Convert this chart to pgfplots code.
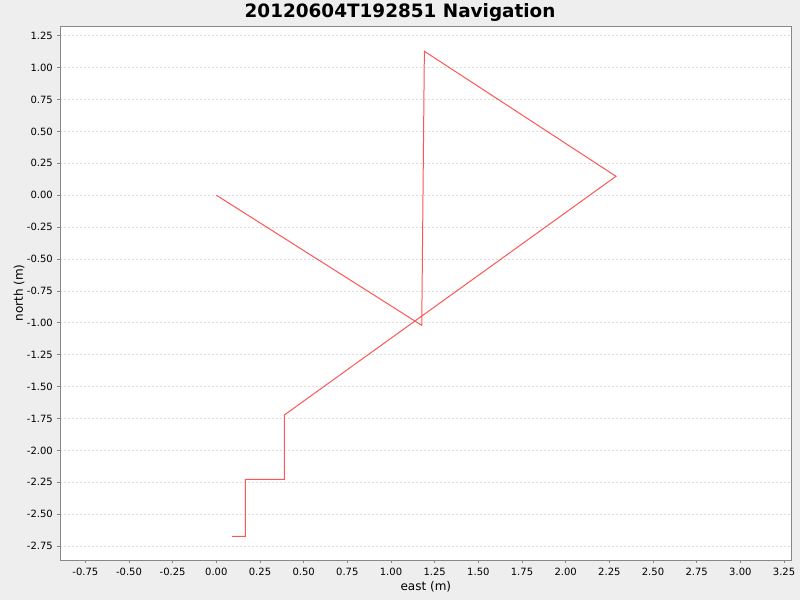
\documentclass[border=0pt]{standalone}
\usepackage{fontspec}
\setmainfont{DejaVu Sans}
\usepackage{pgfplots}
\pgfplotsset{compat=1.18}
\definecolor{bgc}{HTML}{EEEEEE}
\definecolor{linec}{HTML}{FF5555}
\definecolor{gridc}{HTML}{DCDCDC}
\definecolor{axc}{HTML}{888888}
\begin{document}
\begin{tikzpicture}
\fill[bgc] (0pt,0pt) rectangle (800pt,600pt);
\useasboundingbox (0pt,0pt) rectangle (800pt,600pt);
\begin{axis}[
  at={(60pt,40pt)}, anchor=south west,
  scale only axis, width=731.7pt, height=534pt,
  xmin=-0.895, xmax=3.294, ymin=-2.859, ymax=1.326,
  axis background/.style={fill=white},
  axis line style={axc, line width=0.8pt},
  xtick distance=0.25, ytick distance=0.25,
  tick align=outside, major tick length=2.5pt,
  tick style={axc, line width=0.6pt},
  xtick pos=bottom, ytick pos=left,
  ymajorgrids=true,
  grid style={gridc, line width=0.7pt, dash pattern=on 2pt off 2pt},
  /pgf/number format/assume math mode=true,
  /pgf/number format/.cd, fixed, fixed zerofill, precision=2, /pgfplots/.cd,
  ticklabel style={font=\fontsize{10}{12}\selectfont, inner sep=0pt},
  xticklabel style={anchor=north, yshift=-5.5pt},
  yticklabel style={anchor=east, xshift=-4.5pt},
  title={\textbf{20120604T192851 Navigation}},
  title style={at={(axis description cs:0.4647,1)}, anchor=base, yshift=2pt, inner sep=0pt, font=\fontsize{18.4}{20}\selectfont},
  xlabel={east (m)},
  ylabel={north (m)},
  label style={font=\fontsize{12}{14}\selectfont, inner sep=0pt},
  xlabel style={at={(axis description cs:0.5,0)}, anchor=base, yshift=-30pt},
  ylabel style={at={(axis description cs:-0.0506,0.5)}, anchor=base},
]
\addplot[linec, line width=1pt, line join=miter] coordinates {
  (0.000,0.000)
  (1.176,-1.020)
  (1.191,1.128)
  (2.288,0.148)
  (0.389,-1.723)
  (0.389,-2.227)
  (0.166,-2.227)
  (0.166,-2.673)
  (0.090,-2.673)
};
\end{axis}
\end{tikzpicture}
\end{document}
